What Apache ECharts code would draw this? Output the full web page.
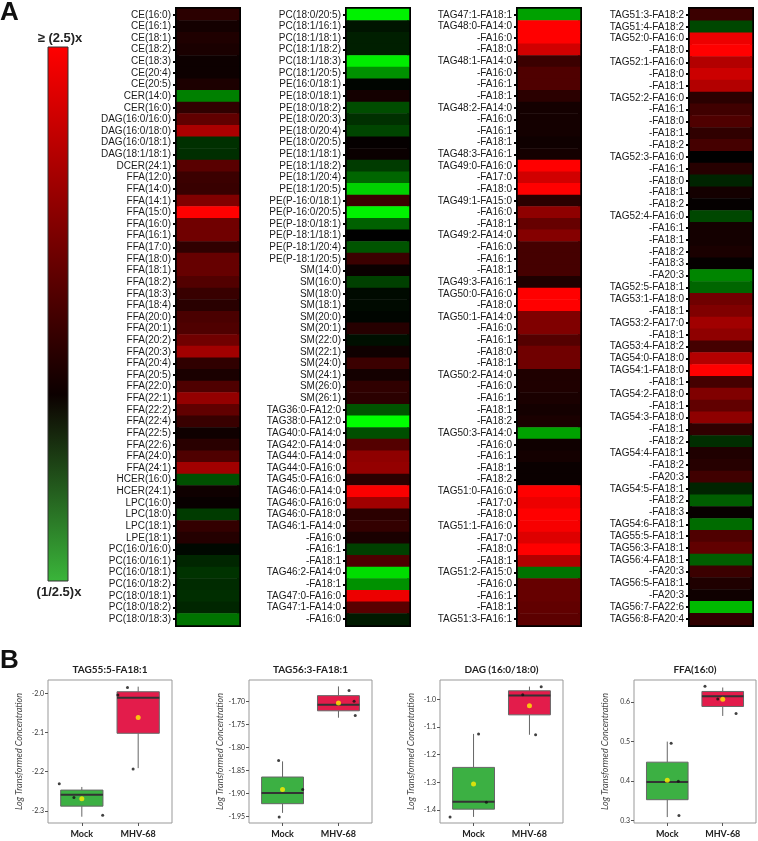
<!DOCTYPE html>
<html><head><meta charset="utf-8">
<script src="https://cdn.jsdelivr.net/npm/echarts@6/dist/echarts.min.js"></script>
<style>html,body{margin:0;padding:0;background:#fff}#chart{width:758px;height:841px}</style>
</head><body><div id="chart"></div>
<script>
// ---------- Panel A data ----------
const col1Labels = ['CE(16:0)','CE(16:1)','CE(18:1)','CE(18:2)','CE(18:3)','CE(20:4)','CE(20:5)','CER(14:0)','CER(16:0)','DAG(16:0/16:0)','DAG(16:0/18:0)','DAG(16:0/18:1)','DAG(18:1/18:1)','DCER(24:1)','FFA(12:0)','FFA(14:0)','FFA(14:1)','FFA(15:0)','FFA(16:0)','FFA(16:1)','FFA(17:0)','FFA(18:0)','FFA(18:1)','FFA(18:2)','FFA(18:3)','FFA(18:4)','FFA(20:0)','FFA(20:1)','FFA(20:2)','FFA(20:3)','FFA(20:4)','FFA(20:5)','FFA(22:0)','FFA(22:1)','FFA(22:2)','FFA(22:4)','FFA(22:5)','FFA(22:6)','FFA(24:0)','FFA(24:1)','HCER(16:0)','HCER(24:1)','LPC(16:0)','LPC(18:0)','LPC(18:1)','LPE(18:1)','PC(16:0/16:0)','PC(16:0/16:1)','PC(16:0/18:1)','PC(16:0/18:2)','PC(18:0/18:1)','PC(18:0/18:2)','PC(18:0/18:3)'];
const col1Values = [0.17,0.08,0.12,0.10,0.05,0.05,0.11,-0.50,0.19,0.38,0.67,-0.19,-0.18,0.35,0.23,0.22,0.50,1.00,0.44,0.44,0.19,0.40,0.40,0.32,0.22,0.16,0.29,0.31,0.44,0.63,0.19,0.10,0.31,0.58,0.38,0.22,0.06,0.16,0.31,0.63,-0.31,0.06,0.03,-0.23,0.20,0.14,-0.03,-0.15,-0.20,-0.17,-0.18,-0.15,-0.45];

const col2Labels = ['PC(18:0/20:5)','PC(18:1/16:1)','PC(18:1/18:1)','PC(18:1/18:2)','PC(18:1/18:3)','PC(18:1/20:5)','PE(16:0/18:1)','PE(18:0/18:1)','PE(18:0/18:2)','PE(18:0/20:3)','PE(18:0/20:4)','PE(18:0/20:5)','PE(18:1/18:1)','PE(18:1/18:2)','PE(18:1/20:4)','PE(18:1/20:5)','PE(P-16:0/18:1)','PE(P-16:0/20:5)','PE(P-18:0/18:1)','PE(P-18:1/18:1)','PE(P-18:1/20:4)','PE(P-18:1/20:5)','SM(14:0)','SM(16:0)','SM(18:0)','SM(18:1)','SM(20:0)','SM(20:1)','SM(22:0)','SM(22:1)','SM(24:0)','SM(24:1)','SM(26:0)','SM(26:1)','TAG36:0-FA12:0','TAG38:0-FA12:0','TAG40:0-FA14:0','TAG42:0-FA14:0','TAG44:0-FA14:0','TAG44:0-FA16:0','TAG45:0-FA16:0','TAG46:0-FA14:0','TAG46:0-FA16:0','TAG46:0-FA18:0','TAG46:1-FA14:0','-FA16:0','-FA16:1','-FA18:1','TAG46:2-FA14:0','-FA18:1','TAG47:0-FA16:0','TAG47:1-FA14:0','-FA16:0'];
const col2Values = [-0.95,-0.08,-0.12,-0.12,-0.93,-0.57,-0.02,0.08,-0.30,-0.19,-0.27,0.02,0.04,-0.23,-0.40,-0.82,0.23,-0.95,-0.38,0.00,-0.33,0.23,0.04,-0.25,-0.04,-0.04,-0.02,0.15,-0.06,0.06,0.23,0.08,0.19,0.17,-0.33,-1.00,-0.31,0.33,0.56,0.58,0.17,0.98,0.63,0.17,0.20,0.10,-0.25,0.30,-0.87,-0.57,0.93,0.35,-0.10];

const col3Labels = ['TAG47:1-FA18:1','TAG48:0-FA14:0','-FA16:0','-FA18:0','TAG48:1-FA14:0','-FA16:0','-FA16:1','-FA18:1','TAG48:2-FA14:0','-FA16:0','-FA16:1','-FA18:1','TAG48:3-FA16:1','TAG49:0-FA16:0','-FA17:0','-FA18:0','TAG49:1-FA15:0','-FA16:0','-FA18:1','TAG49:2-FA14:0','-FA16:0','-FA16:1','-FA18:1','TAG49:3-FA16:1','TAG50:0-FA16:0','-FA18:0','TAG50:1-FA14:0','-FA16:0','-FA16:1','-FA18:0','-FA18:1','TAG50:2-FA14:0','-FA16:0','-FA16:1','-FA18:1','-FA18:2','TAG50:3-FA14:0','-FA16:0','-FA16:1','-FA18:1','-FA18:2','TAG51:0-FA16:0','-FA17:0','-FA18:0','TAG51:1-FA16:0','-FA17:0','-FA18:0','-FA18:1','TAG51:2-FA15:0','-FA16:0','-FA16:1','-FA18:1','TAG51:3-FA16:1'];
const col3Values = [-0.63,1.00,1.00,0.82,0.23,0.31,0.31,0.17,0.08,0.08,0.08,0.06,0.08,1.00,0.82,1.00,0.17,0.56,0.40,0.52,0.27,0.27,0.27,0.12,1.00,1.00,0.50,0.50,0.33,0.44,0.44,0.12,0.12,0.10,0.08,0.10,-0.63,0.06,0.08,0.04,0.04,1.00,0.93,1.00,0.97,0.87,1.00,0.70,-0.45,0.40,0.40,0.38,0.36];

const col4Labels = ['TAG51:3-FA18:2','TAG51:4-FA18:2','TAG52:0-FA16:0','-FA18:0','TAG52:1-FA16:0','-FA18:0','-FA18:1','TAG52:2-FA16:0','-FA16:1','-FA18:0','-FA18:1','-FA18:2','TAG52:3-FA16:0','-FA16:1','-FA18:0','-FA18:1','-FA18:2','TAG52:4-FA16:0','-FA16:1','-FA18:1','-FA18:2','-FA18:3','-FA20:3','TAG52:5-FA18:1','TAG53:1-FA18:0','-FA18:1','TAG53:2-FA17:0','-FA18:1','TAG53:4-FA18:2','TAG54:0-FA18:0','TAG54:1-FA18:0','-FA18:1','TAG54:2-FA18:0','-FA18:1','TAG54:3-FA18:0','-FA18:1','-FA18:2','TAG54:4-FA18:1','-FA18:2','-FA20:3','TAG54:5-FA18:1','-FA18:2','-FA18:3','TAG54:6-FA18:1','TAG55:5-FA18:1','TAG56:3-FA18:1','TAG56:4-FA18:1','-FA20:3','TAG56:5-FA18:1','-FA20:3','TAG56:7-FA22:6','TAG56:8-FA20:4'];
const col4Values = [0.23,-0.28,0.93,1.00,0.70,0.80,0.70,0.17,0.25,0.31,0.19,0.27,0.00,0.15,-0.14,0.08,0.02,-0.28,0.08,0.08,0.10,0.02,-0.52,-0.40,0.44,0.50,0.63,0.56,0.27,0.70,1.00,0.27,0.50,0.38,0.56,0.19,-0.18,0.12,0.15,0.25,-0.14,-0.37,0.03,-0.42,0.31,0.38,-0.37,0.23,0.12,0.06,-0.73,0.19];

const legendTop = '≥ (2.5)x';
const legendBottom = '(1/2.5)x';

// ---------- Panel B data ----------
const groups = ['Mock', 'MHV-68'];
const boxTitles = ['TAG55:5-FA18:1', 'TAG56:3-FA18:1', 'DAG (16:0/18:0)', 'FFA(16:0)'];
// [min, Q1, median, Q3, max] for Mock, MHV-68
const boxStats = [
  [[-2.315,-2.288,-2.259,-2.247,-2.239], [-2.191,-2.102,-2.011,-1.996,-1.983]],
  [[-1.942,-1.922,-1.899,-1.864,-1.830], [-1.735,-1.720,-1.707,-1.687,-1.667]],
  [[-1.425,-1.397,-1.370,-1.246,-1.125], [-1.128,-1.056,-0.986,-0.969,-0.954]],
  [[0.309,0.353,0.398,0.448,0.500], [0.565,0.589,0.615,0.627,0.637]]
];
// sample points: [group position with jitter, value]
const boxPoints = [
  [[-0.40,-2.231],[-0.14,-2.266],[0.37,-2.311],[0.64,-2.004],[0.81,-1.985],[0.91,-2.193]],
  [[-0.07,-1.828],[0.36,-1.891],[-0.06,-1.951],[1.19,-1.676],[1.28,-1.699],[1.30,-1.730]],
  [[0.09,-1.125],[0.23,-1.372],[-0.42,-1.425],[1.21,-0.954],[0.88,-0.983],[1.11,-1.128]],
  [[0.07,0.496],[0.20,0.400],[0.21,0.313],[0.68,0.640],[0.91,0.608],[1.24,0.571]]
];
const boxMeans = [
  [[0,-2.269],[1,-2.062]],
  [[0,-1.891],[1,-1.703]],
  [[0,-1.306],[1,-1.023]],
  [[0,0.402],[1,0.607]]
];
const yRanges = [[-2.331,-1.966],[-1.964,-1.653],[-1.447,-0.930],[0.294,0.656]];
const yTicks = [
  [-2.3,-2.2,-2.1,-2.0],
  [-1.95,-1.90,-1.85,-1.80,-1.75,-1.70],
  [-1.4,-1.3,-1.2,-1.1,-1.0],
  [0.3,0.4,0.5,0.6]
];
const yDecimals = [1,2,1,1];

// ---------- layout ----------
const heatCols = [
  {labels: col1Labels, values: col1Values, left: 177},
  {labels: col2Labels, values: col2Values, left: 347},
  {labels: col3Labels, values: col3Values, left: 518},
  {labels: col4Labels, values: col4Values, left: 690}
];
const boxLayout = [{left: 48, width: 124},{left: 249, width: 123},{left: 440, width: 123},{left: 634, width: 122}];
const BOX_TOP = 680, BOX_H = 143;
const boxColors = ['#3cb043', '#e31c4b'];
const HFONT = '"Liberation Sans", Arial, sans-serif';
const BFONT = 'Lato, "Open Sans", sans-serif';

const grid = [], xAxis = [], yAxis = [], series = [];
heatCols.forEach((c, i) => {
  grid.push({left: c.left, top: 9, width: 62, height: 616, show: true, borderColor: '#000', borderWidth: 4, backgroundColor: 'transparent'});
  xAxis.push({gridIndex: i, type: 'category', data: [''], show: false});
  yAxis.push({
    gridIndex: i, type: 'category', data: c.labels, inverse: true,
    axisLine: {show: false},
    axisTick: {show: true, alignWithLabel: true, length: 4, interval: 0, lineStyle: {color: '#000', width: 2}},
    axisLabel: {interval: 0, fontSize: 10, fontFamily: HFONT, color: '#1a1a1a', margin: 6,
      formatter: (v, idx) => c.labels[idx]},
    splitLine: {show: false}
  });
  series.push({
    type: 'heatmap', xAxisIndex: i, yAxisIndex: i,
    data: c.values.map((v, r) => [0, r, v]),
    itemStyle: {borderWidth: 0},
    emphasis: {disabled: true}, progressive: 0
  });
});

boxLayout.forEach((b, p) => {
  const gi = 4 + p;
  grid.push({left: b.left, top: BOX_TOP, width: b.width, height: BOX_H, show: true, borderColor: '#999', borderWidth: 1, backgroundColor: 'transparent'});
  xAxis.push({
    gridIndex: gi, type: 'value', min: -0.6, max: 1.6, position: 'bottom',
    axisLine: {show: false, onZero: false}, splitLine: {show: false},
    axisTick: {show: true, customValues: [0, 1], length: 3, lineStyle: {color: '#555'}},
    axisLabel: {customValues: [0, 1], formatter: v => groups[Math.round(v)], fontFamily: BFONT, fontWeight: 'bold', fontSize: 9, color: '#222', margin: 7}
  });
  yAxis.push({
    gridIndex: gi, type: 'value', min: yRanges[p][0], max: yRanges[p][1], position: 'left',
    name: 'Log Transformed Concentration', nameLocation: 'middle', nameGap: 24,
    nameTextStyle: {fontFamily: BFONT, fontStyle: 'italic', fontSize: 9, color: '#444'},
    axisLine: {show: false, onZero: false}, splitLine: {show: false},
    axisTick: {show: true, customValues: yTicks[p], length: 3, lineStyle: {color: '#555'}},
    axisLabel: {customValues: yTicks[p], formatter: v => v.toFixed(yDecimals[p]), fontFamily: BFONT, fontSize: 7, color: '#333', margin: 4}
  });
  series.push({
    type: 'custom', xAxisIndex: gi, yAxisIndex: gi,
    data: boxStats[p].map((s, k) => [k, ...s]),
    encode: {x: 0, y: [1, 2, 3, 4, 5]},
    renderItem: (params, api) => {
      const x = api.value(0);
      const c = y => api.coord([x, y]);
      const pMin = c(api.value(1)), pQ1 = c(api.value(2)), pMed = c(api.value(3)), pQ3 = c(api.value(4)), pMax = c(api.value(5));
      const half = api.size([0.375, 0])[0];
      const cx = pMin[0];
      return {type: 'group', children: [
        {type: 'line', shape: {x1: cx, y1: pQ3[1], x2: cx, y2: pMax[1]}, style: {stroke: '#666', lineWidth: 1}},
        {type: 'line', shape: {x1: cx, y1: pQ1[1], x2: cx, y2: pMin[1]}, style: {stroke: '#666', lineWidth: 1}},
        {type: 'rect', shape: {x: cx - half, y: pQ3[1], width: 2 * half, height: pQ1[1] - pQ3[1]}, style: {fill: boxColors[params.dataIndex], stroke: '#666', lineWidth: 1}},
        {type: 'line', shape: {x1: cx - half, y1: pMed[1], x2: cx + half, y2: pMed[1]}, style: {stroke: '#333', lineWidth: 2}}
      ]};
    },
    z: 2
  });
  series.push({type: 'scatter', xAxisIndex: gi, yAxisIndex: gi, data: boxPoints[p], symbolSize: 3, itemStyle: {color: '#111'}, z: 3, silent: true});
  series.push({type: 'scatter', xAxisIndex: gi, yAxisIndex: gi, data: boxMeans[p], symbolSize: 5, itemStyle: {color: '#ffee00'}, z: 4, silent: true});
});

const graphic = [
  {type: 'text', x: 0, y: 12.5, style: {text: 'A', fontSize: 26, fontWeight: 'bold', fontFamily: HFONT, fill: '#111', textVerticalAlign: 'middle', verticalAlign: 'middle'}},
  {type: 'text', x: 0, y: 661, style: {text: 'B', fontSize: 26, fontWeight: 'bold', fontFamily: HFONT, fill: '#111', textVerticalAlign: 'middle', verticalAlign: 'middle'}},
  {type: 'text', x: 60, y: 38, style: {text: legendTop, fontSize: 13, fontWeight: 'bold', fontFamily: HFONT, fill: '#222', textAlign: 'center', align: 'center', textVerticalAlign: 'middle', verticalAlign: 'middle'}},
  {type: 'text', x: 59, y: 592, style: {text: legendBottom, fontSize: 13, fontWeight: 'bold', fontFamily: HFONT, fill: '#222', textAlign: 'center', align: 'center', textVerticalAlign: 'middle', verticalAlign: 'middle'}},
  {type: 'rect', shape: {x: 48, y: 47, width: 20, height: 534},
   style: {fill: new echarts.graphic.LinearGradient(0, 0, 0, 1, [
     {offset: 0, color: '#ff0000'}, {offset: 0.65, color: '#0c0000'}, {offset: 1, color: '#3ab53a'}]),
     stroke: '#333', lineWidth: 1}}
];
boxTitles.forEach((t, p) => {
  graphic.push({type: 'text', x: boxLayout[p].left + boxLayout[p].width / 2, y: 670,
    style: {text: t, fontSize: 10, fontWeight: 'bold', fontFamily: BFONT, fill: '#222', textAlign: 'center', align: 'center', textVerticalAlign: 'middle', verticalAlign: 'middle'}});
});

const chart = echarts.init(document.getElementById('chart'), null, {renderer: 'canvas'});
chart.setOption({
  animation: false,
  backgroundColor: '#fff',
  grid, xAxis, yAxis, series, graphic,
  visualMap: {type: 'continuous', show: false, min: -1, max: 1, dimension: 2, seriesIndex: [0, 1, 2, 3],
    inRange: {color: ['#00ff00', '#000000', '#ff0000']}}
});
</script></body></html>
